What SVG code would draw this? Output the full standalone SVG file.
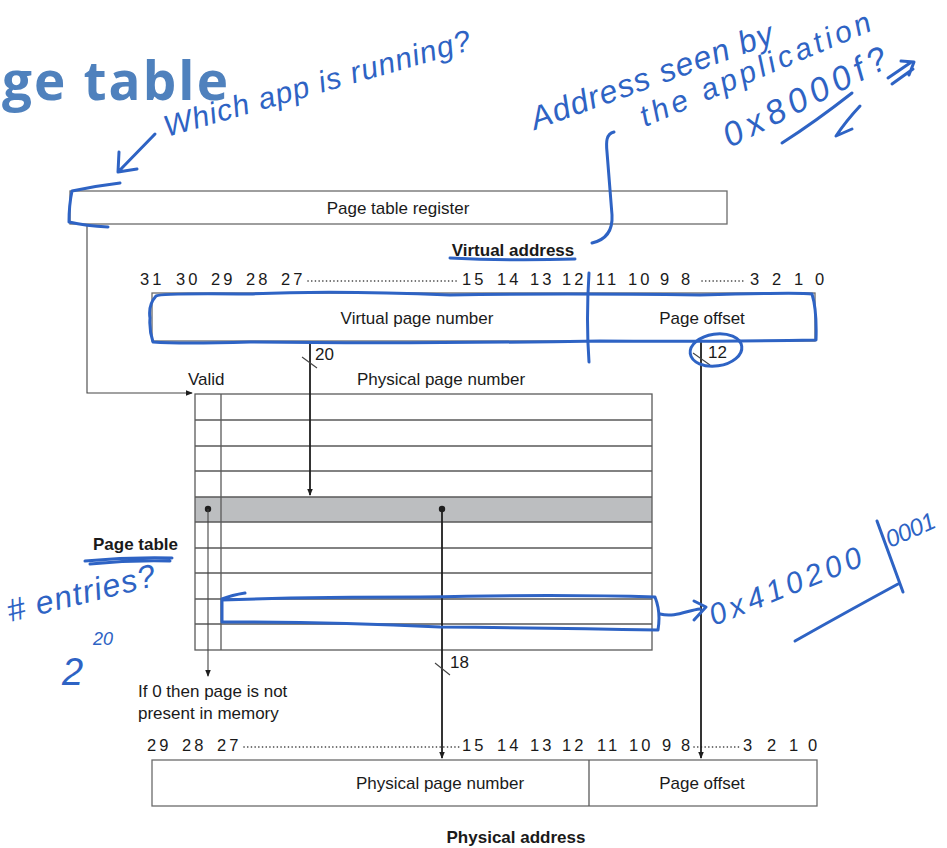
<svg xmlns="http://www.w3.org/2000/svg" width="947" height="848" viewBox="0 0 947 848">
<defs>
<style>
.t{font-family:"Liberation Sans",Arial,sans-serif;font-size:17px;fill:#1a1a1a}
.b{font-weight:bold}
.n{font-family:"Liberation Sans",Arial,sans-serif;font-size:16.5px;fill:#1a1a1a;letter-spacing:3px}
.box{fill:#fff;stroke:#6b6b6b;stroke-width:1.3}
.grid{stroke:#5a5a5a;stroke-width:1.3;fill:none}
.dots{stroke:#333;stroke-width:1.6;stroke-dasharray:0.1 3.6;stroke-linecap:round}
.w{stroke:#1e1e1e;stroke-width:1.8;fill:none}
.thin{stroke:#444;stroke-width:1.1;fill:none}
.ink{stroke:#2e63c4;stroke-width:3;fill:none;stroke-linecap:round;stroke-linejoin:round}
.hw{font-family:"Liberation Sans",Arial,sans-serif;font-style:italic;fill:#2e63c4}
</style>
<marker id="ah" viewBox="0 0 8 8" refX="7" refY="4" markerWidth="7" markerHeight="7" markerUnits="userSpaceOnUse" orient="auto">
<path d="M0,0.8 L8,4 L0,7.2 Z" fill="#1e1e1e"/>
</marker>
</defs>
<rect width="947" height="848" fill="#fff"/>

<text x="2" y="100" font-family="'Open Sans',sans-serif" font-weight="bold" font-size="53" fill="#4f81bd" textLength="226">ge table</text>

<g id="register">
<rect class="box" x="70" y="191" width="657" height="33"/>
<text class="t" x="398" y="214" text-anchor="middle">Page table register</text>
</g>

<g id="virtual-address">
<text class="t b" x="513" y="256" text-anchor="middle">Virtual address</text>
<text class="n" y="285"><tspan x="140">31</tspan><tspan x="176">30</tspan><tspan x="211">29</tspan><tspan x="246">28</tspan><tspan x="281">27</tspan><tspan x="462">15</tspan><tspan x="497">14</tspan><tspan x="530">13</tspan><tspan x="562">12</tspan><tspan x="596">11</tspan><tspan x="628">10</tspan><tspan x="660">9</tspan><tspan x="681">8</tspan><tspan x="750">3</tspan><tspan x="772">2</tspan><tspan x="794">1</tspan><tspan x="815">0</tspan></text>
<line class="dots" x1="308" y1="281" x2="459" y2="281"/>
<line class="dots" x1="702" y1="281" x2="746" y2="281"/>
<rect class="box" x="152" y="293" width="663" height="48"/>
<line class="grid" x1="588" y1="293" x2="588" y2="341"/>
<text class="t" x="417" y="324" text-anchor="middle">Virtual page number</text>
<text class="t" x="702" y="324" text-anchor="middle">Page offset</text>
</g>

<g id="page-table">
<text class="t" x="188" y="385">Valid</text>
<text class="t" x="441" y="385" text-anchor="middle">Physical page number</text>
<rect x="195" y="497" width="457" height="25" fill="#bcbec0"/>
<rect class="grid" x="195" y="394" width="457" height="256"/>
<path class="grid" d="M195,420H652M195,446H652M195,471H652M195,497H652M195,522H652M195,548H652M195,573H652M195,599H652M195,624H652M221,394V650"/>
<circle cx="208" cy="509" r="3.2" fill="#1e1e1e"/>
<circle cx="442" cy="509" r="3.2" fill="#1e1e1e"/>
<text class="t b" x="93" y="550">Page table</text>
<text class="t" x="138" y="697">If 0 then page is not</text>
<text class="t" x="138" y="719">present in memory</text>
</g>

<g id="physical-address">
<text class="n" y="751"><tspan x="147">29</tspan><tspan x="182">28</tspan><tspan x="217">27</tspan><tspan x="462">15</tspan><tspan x="497">14</tspan><tspan x="530">13</tspan><tspan x="562">12</tspan><tspan x="597">11</tspan><tspan x="629">10</tspan><tspan x="662">9</tspan><tspan x="681">8</tspan><tspan x="743">3</tspan><tspan x="767">2</tspan><tspan x="789">1</tspan><tspan x="808">0</tspan></text>
<line class="dots" x1="244" y1="747" x2="459" y2="747"/>
<line class="dots" x1="694" y1="747" x2="740" y2="747"/>
<rect class="box" x="152" y="760" width="665" height="46"/>
<line class="grid" x1="589" y1="760" x2="589" y2="806"/>
<text class="t" x="440" y="789" text-anchor="middle">Physical page number</text>
<text class="t" x="702" y="789" text-anchor="middle">Page offset</text>
<text class="t b" x="516" y="843" text-anchor="middle">Physical address</text>
</g>

<g id="connectors">
<path class="thin" d="M87,224V393H192" marker-end="url(#ah)"/>
<path class="w" d="M310,341V495" marker-end="url(#ah)"/>
<path class="thin" d="M302,357L317,368"/>
<text class="t" x="315" y="360">20</text>
<path class="w" d="M701,341V758" marker-end="url(#ah)"/>
<path class="thin" d="M693,353L710,365"/>
<text class="t" x="708" y="358">12</text>
<path class="w" d="M442,509V758" marker-end="url(#ah)"/>
<path class="thin" d="M435,663L450,675"/>
<text class="t" x="450" y="668">18</text>
<path class="thin" d="M208,509V676" marker-end="url(#ah)"/>
</g>

<g id="annotations">
<text class="hw" font-size="30" transform="translate(167,137) rotate(-16)" textLength="318">Which app is running?</text>
<path class="ink" d="M155,134L120,170M119,152L118,172L137,169"/>
<path class="ink" d="M120,183Q95,186 72,191Q69,205 69,222Q86,226 108,227"/>
<text class="hw" font-size="32" transform="translate(535,130) rotate(-20)" textLength="256">Address seen by</text>
<text class="hw" font-size="30" transform="translate(645,127) rotate(-23)" textLength="248">the application</text>
<text class="hw" font-size="34" transform="translate(730,148) rotate(-27)" textLength="180">0x8000f?</text>
<path class="ink" d="M782,143Q815,122 852,93"/>
<path class="ink" d="M888,78L910,63M892,84L913,69M901,61L914,62L909,75"/>
<path class="ink" d="M860,106Q846,121 836,136L852,129"/>
<path class="ink" d="M614,132C606,134 606,142 607,152L612,215C613,232 605,240 592,243"/>
<path class="ink" d="M450,258Q510,261 575,259"/>
<path class="ink" d="M156,296Q160,293 250,294Q330,290 450,295Q560,293 700,295Q800,292 812,294Q817,310 816,340Q700,342 600,341Q400,344 250,342Q180,344 153,342Q149,330 150,318Q148,305 156,296Z"/>
<path class="ink" d="M589,273Q586,320 589,362"/>
<ellipse class="ink" cx="716" cy="350" rx="26" ry="16" transform="rotate(-8 716 350)"/>
<path class="ink" d="M85,561Q128,557 172,558M90,564Q130,560 170,561"/>
<text class="hw" font-size="32" transform="translate(10,622) rotate(-14)" textLength="152"># entries?</text>
<text class="hw" font-size="38" x="62" y="685">2</text>
<text class="hw" font-size="18" x="93" y="645">20</text>
<path class="ink" d="M222,599Q232,595 245,593M222,600Q300,597 420,597Q560,594 655,597Q661,612 658,630Q560,628 440,627Q330,622 222,622Z"/>
<path class="ink" d="M660,614C675,618 688,610 700,609M694,601L706,607L694,620"/>
<text class="hw" font-size="30" transform="translate(714,626) rotate(-22)" textLength="162">0x410200</text>
<text class="hw" font-size="24" transform="translate(890,548) rotate(-24)" textLength="52">0001</text>
<path class="ink" d="M877,521L903,592M795,641Q850,610 898,584"/>
</g>
</svg>
